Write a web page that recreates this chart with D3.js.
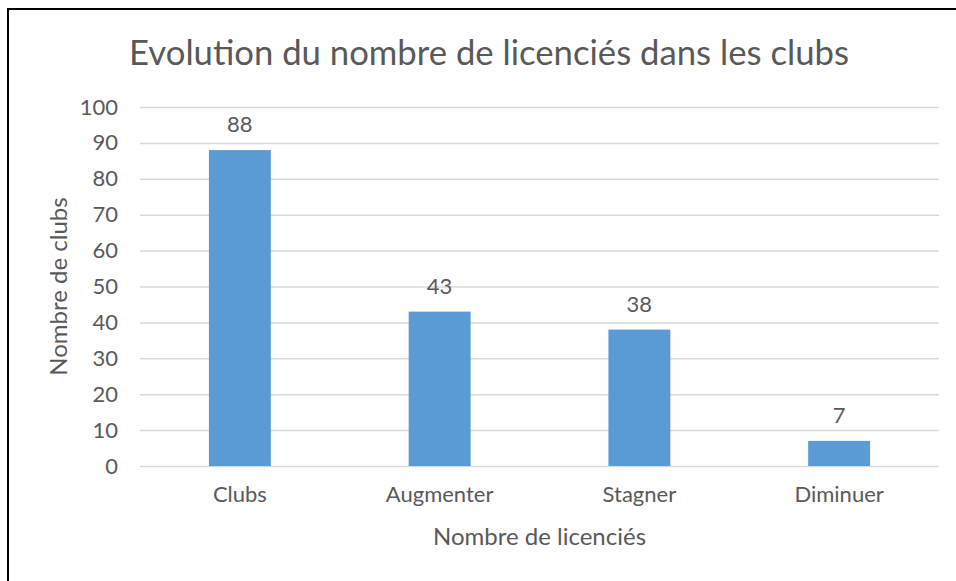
<!DOCTYPE html>
<meta charset="utf-8">
<style>
  body { margin: 0; background: #fff; }
  text { font-family: Lato, "Open Sans", sans-serif; fill: #595959; }
</style>

<!-- Load d3.js -->
<script src="https://d3js.org/d3.v7.min.js"></script>

<!-- Create a div where the graph will take place -->
<div id="my_dataviz"></div>

<script>

// data
var categories = ["Clubs", "Augmenter", "Stagner", "Diminuer"];
var values = [88, 43, 38, 7];
var yTicks = [0, 10, 20, 30, 40, 50, 60, 70, 80, 90, 100];

var data = categories.map(function(c, i) { return {name: c, value: values[i]}; });

// set the dimensions and margins of the graph
var W = 956, H = 581;
var margin = {top: 107, right: 17, bottom: 115, left: 140},
    width = W - margin.left - margin.right,
    height = H - margin.top - margin.bottom;

var root = d3.select("#my_dataviz")
  .append("svg")
    .attr("width", W)
    .attr("height", H);

// frame (only top and left edges are visible in the picture)
root.append("rect")
  .attr("x", 8)
  .attr("y", 9)
  .attr("width", 1200)
  .attr("height", 1200)
  .attr("fill", "none")
  .attr("stroke", "#000")
  .attr("stroke-width", 2);

// title
root.append("text")
  .attr("x", 489)
  .attr("y", 65)
  .attr("text-anchor", "middle")
  .style("font-size", "34.7px")
  .text("Evolution du nombre de licenciés dans les clubs");

var svg = root.append("g")
  .attr("transform", "translate(" + margin.left + "," + margin.top + ")");

// X scale
var x = d3.scaleBand()
  .range([0, width])
  .domain(categories)
  .paddingInner(0.69)
  .paddingOuter(0.345);

// Y scale
var y = d3.scaleLinear()
  .domain([0, 100])
  .range([height, 0]);

// gridlines + y tick labels
var yAxis = svg.append("g")
  .call(d3.axisLeft(y).tickValues(yTicks).tickSize(-width).tickPadding(22));
yAxis.select(".domain").remove();
yAxis.selectAll("line")
  .attr("stroke", "#d9d9d9")
  .attr("stroke-width", 1.5);
yAxis.selectAll("text")
  .style("font-size", "22px")
  .attr("fill", "#595959");

// x axis labels
var xAxis = svg.append("g")
  .attr("transform", "translate(0," + height + ")")
  .call(d3.axisBottom(x).tickSize(0).tickPadding(20));
xAxis.select(".domain").remove();
xAxis.selectAll("text")
  .style("font-size", "22px")
  .attr("fill", "#595959");

// Bars
svg.selectAll("mybar")
  .data(data)
  .enter()
  .append("rect")
    .attr("x", function(d) { return x(d.name); })
    .attr("y", function(d) { return y(d.value); })
    .attr("width", x.bandwidth())
    .attr("height", function(d) { return height - y(d.value); })
    .attr("fill", "#5b9bd5");

// value labels
svg.selectAll("vlabel")
  .data(data)
  .enter()
  .append("text")
    .attr("x", function(d) { return x(d.name) + x.bandwidth() / 2; })
    .attr("y", function(d) { return y(d.value) - 18; })
    .attr("text-anchor", "middle")
    .style("font-size", "22px")
    .text(function(d) { return d.value; });

// axis titles
root.append("text")
  .attr("x", margin.left + width / 2)
  .attr("y", 545)
  .attr("text-anchor", "middle")
  .style("font-size", "24px")
  .text("Nombre de licenciés");

root.append("text")
  .attr("transform", "translate(67," + (margin.top + height / 2) + ")rotate(-90)")
  .attr("text-anchor", "middle")
  .style("font-size", "24px")
  .text("Nombre de clubs");

</script>
